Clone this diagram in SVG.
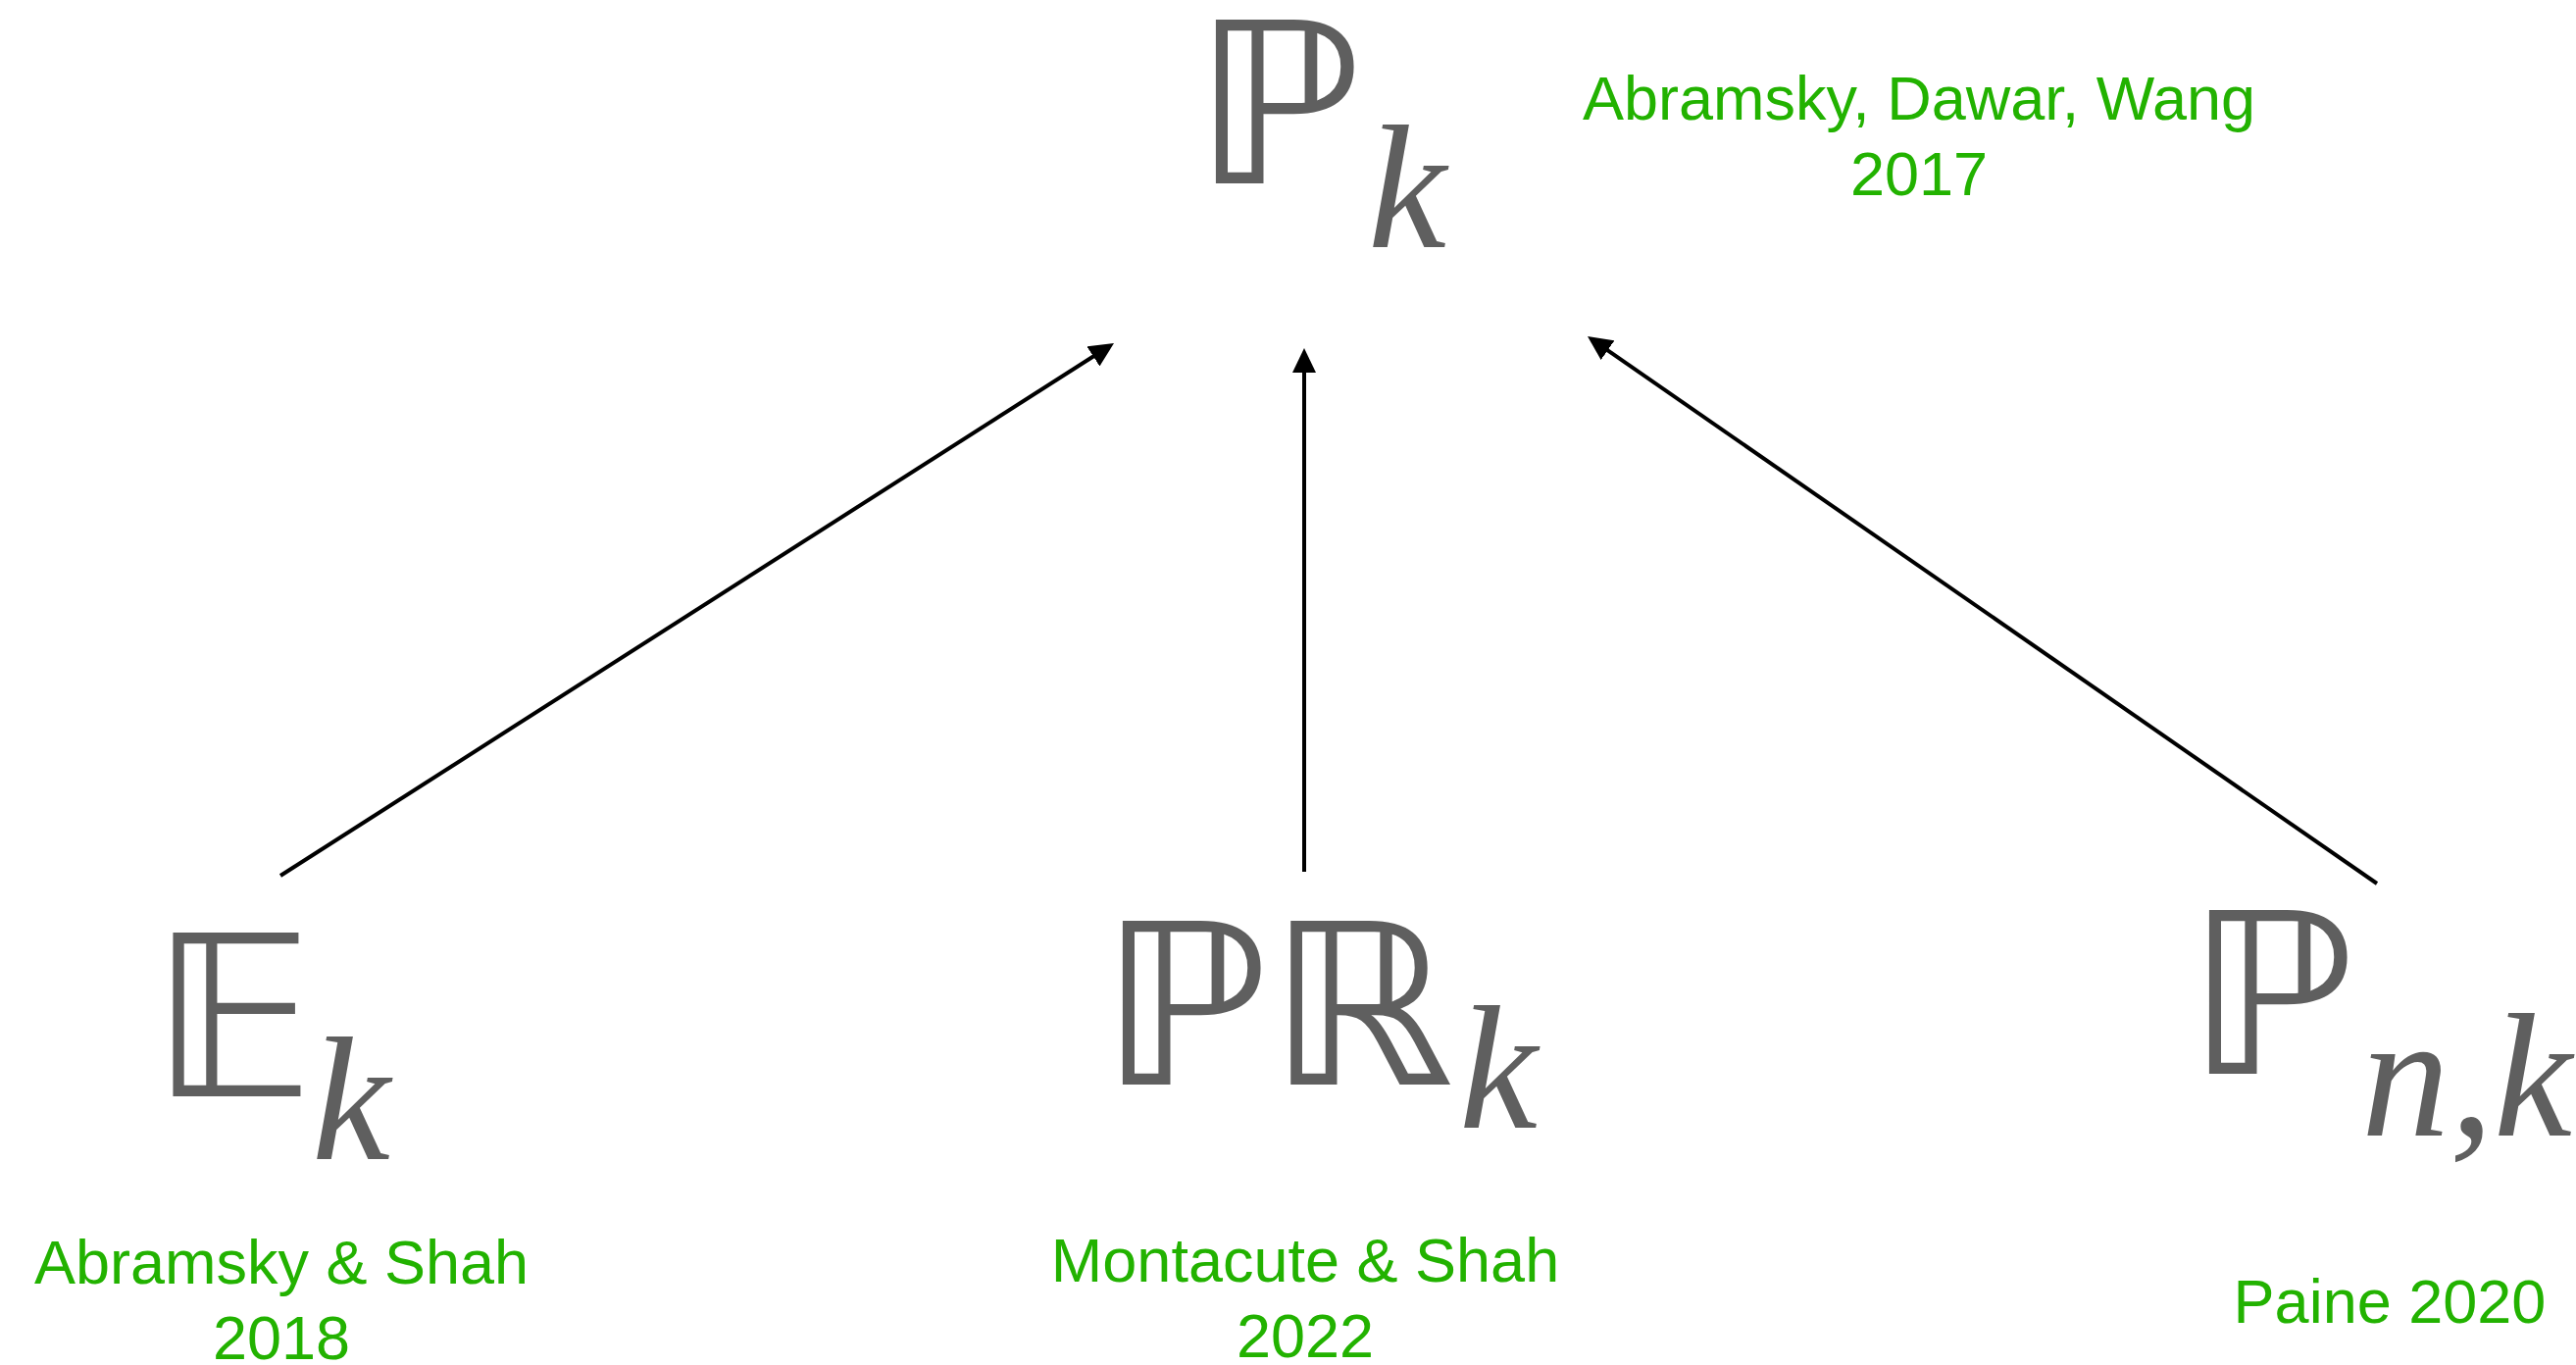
<svg xmlns="http://www.w3.org/2000/svg" width="2627" height="1392" viewBox="0 0 2627 1392">
<style>
.ds{font-family:"DejaVu Sans",sans-serif;font-size:229px;fill:#5f5f5f}
.sub{font-family:"Liberation Serif","Times New Roman",serif;font-style:italic;font-size:180px;fill:#5f5f5f}
.lbl{font-family:"Liberation Sans",Arial,sans-serif;font-size:63px;fill:#22b200;text-anchor:middle}
.arr{stroke:#000;stroke-width:4;fill:none;marker-end:url(#ah)}
</style>
<defs>
<marker id="ah" markerUnits="userSpaceOnUse" markerWidth="25" markerHeight="24" refX="6" refY="12" orient="auto">
<path d="M0,0 L25,12 L0,24 Z" fill="#000"/>
</marker>
</defs>
<rect width="2627" height="1392" fill="#fff"/>
<g id="connectors">
<line class="arr" x1="286" y1="893" x2="1120" y2="360.2"/>
<line class="arr" x1="1330" y1="889" x2="1330" y2="374"/>
<line class="arr" x1="2424" y1="901" x2="1634.6" y2="353.8"/>
</g>
<g id="node-Pk">
<text class="ds" transform="translate(1216,187) scale(1.08,1)" x="0" y="0">ℙ</text>
<text class="sub" x="1395" y="252">k</text>
<text class="lbl" x="1957" y="122">Abramsky, Dawar, Wang</text>
<text class="lbl" x="1957" y="199">2017</text>
</g>
<g id="node-Ek">
<text class="ds" x="154" y="1118">𝔼</text>
<text class="sub" x="318" y="1182">k</text>
<text class="lbl" x="287" y="1309">Abramsky &amp; Shah</text>
<text class="lbl" x="287" y="1386">2018</text>
</g>
<g id="node-PRk">
<text class="ds" transform="translate(1121,1106) scale(1.08,1)" x="0" y="0">ℙ</text>
<text class="ds" transform="translate(1293,1106) scale(1.05,1)" x="0" y="0">ℝ</text>
<text class="sub" x="1488" y="1150">k</text>
<text class="lbl" x="1331" y="1307">Montacute &amp; Shah</text>
<text class="lbl" x="1331" y="1384">2022</text>
</g>
<g id="node-Pnk">
<text class="ds" transform="translate(2229,1095) scale(1.08,1)" x="0" y="0">ℙ</text>
<text class="sub" x="2408" y="1158">n,k</text>
<text class="lbl" x="2437" y="1349">Paine 2020</text>
</g>
</svg>
